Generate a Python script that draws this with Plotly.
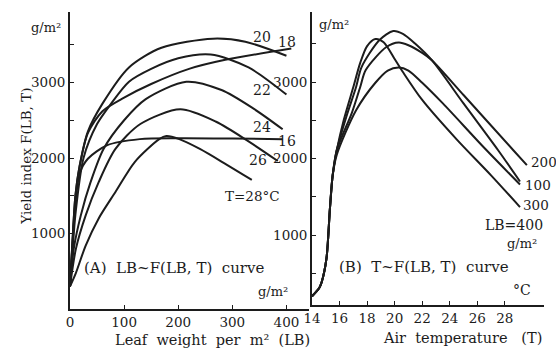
import plotly.graph_objects as go

W, H = 556, 350

# ---------------- Panel A data: LB -> F(LB,T) for several T ----------------
a_temps = ["16", "18", "20", "22", "24", "26", "28"]
a_lb = {
    "16": [0, 5, 10, 18, 33, 69, 129, 200, 300, 393],
    "18": [0, 5, 10, 18, 33, 60, 100, 150, 220, 287, 409],
    "20": [0, 5, 10, 18, 33, 60, 109, 169, 264, 324, 400],
    "22": [0, 5, 10, 25, 50, 75, 109, 150, 200, 260, 330, 400],
    "24": [0, 7, 20, 38, 62, 100, 140, 215, 280, 340, 393],
    "26": [0, 11, 29, 53, 84, 130, 204, 270, 330, 384],
    "28": [0, 11, 29, 53, 84, 120, 165, 178, 202, 240, 290, 336],
}
a_f = {
    "16": [300, 900, 1400, 1800, 1990, 2170, 2250, 2262, 2258, 2250],
    "18": [300, 950, 1500, 1900, 2330, 2620, 2800, 2980, 3180, 3300, 3450],
    "20": [300, 950, 1500, 1900, 2350, 2720, 3200, 3460, 3580, 3540, 3355],
    "22": [300, 800, 1250, 2000, 2450, 2710, 3010, 3180, 3320, 3370, 3200, 2840],
    "24": [300, 800, 1240, 1680, 2120, 2500, 2780, 3010, 2900, 2650, 2380],
    "26": [300, 800, 1240, 1680, 2120, 2450, 2645, 2480, 2220, 1960],
    "28": [300, 480, 840, 1200, 1550, 1950, 2250, 2290, 2250, 2120, 1910, 1710],
}

# ---------------- Panel B data: T -> F(LB,T) for several LB ----------------
b_lbs = ["100", "200", "300", "400"]
b_t = {
    "100": [14, 14.5, 14.7, 15.05, 15.3, 15.5, 15.8, 17.2, 18.6, 19.5, 20.3, 21, 22, 23.5, 26.5, 29.1],
    "200": [14, 14.5, 14.7, 15.05, 15.3, 15.5, 15.8, 16.9, 17.5, 17.9, 19.4, 20.3, 21, 22, 22.7, 25, 28.6, 29.6],
    "300": [14, 14.5, 14.7, 15.05, 15.3, 15.5, 15.8, 16.5, 17.2, 17.6, 18.9, 19.9, 20.6, 21.5, 22.7, 25, 27.5, 29.1],
    "400": [14, 14.5, 14.7, 15.05, 15.3, 15.5, 15.8, 16.3, 17.0, 17.5, 18.0, 18.6, 19.2, 20.0, 20.6, 22, 24.5, 27, 29.1],
}
b_f = {
    "100": [200, 300, 383, 693, 1346, 1780, 2050, 2630, 2990, 3150, 3190, 3150, 2990, 2720, 2140, 1660],
    "200": [200, 300, 383, 693, 1346, 1780, 2110, 2600, 2935, 3156, 3457, 3515, 3480, 3380, 3285, 2830, 2111, 1913],
    "300": [200, 300, 383, 693, 1346, 1780, 2110, 2550, 2935, 3195, 3549, 3667, 3630, 3500, 3285, 2720, 2111, 1700],
    "400": [200, 300, 383, 693, 1346, 1780, 2110, 2500, 2935, 3250, 3470, 3562, 3520, 3300, 3130, 2765, 2250, 1780, 1365],
}

a_xticks = [0, 100, 200, 300, 400]
b_xticks = [14, 16, 18, 20, 22, 24, 26, 28]
y_ticks = [500, 1000, 1500, 2000, 2500, 3000, 3500]
y_ticktext = ["", "1000", "", "2000", "", "3000", ""]

INK = "#1c1c1c"
FONT = "DejaVu Serif"

fig = go.Figure()
for t in a_temps:
    fig.add_trace(go.Scatter(x=a_lb[t], y=a_f[t], mode="lines", xaxis="x", yaxis="y",
                             line=dict(color=INK, width=2, shape="spline", smoothing=0.8),
                             hoverinfo="skip", showlegend=False))
for lb in b_lbs:
    fig.add_trace(go.Scatter(x=b_t[lb], y=b_f[lb], mode="lines", xaxis="x2", yaxis="y2",
                             line=dict(color=INK, width=2, shape="spline", smoothing=0.8),
                             hoverinfo="skip", showlegend=False))


def px(x, y):
    return x / W, 1 - y / H


# axis geometry (pixels)
A_X0, A_X1, A_Y0, A_Y1 = 62, 305, 309, 12
A_XS, A_YS = 0.55, 0.0755
B_X0, B_X1, B_Y0, B_Y1 = 308, 544, 305, 12
B_XS, B_YS = 14.0, 0.0765

axis_common = dict(showline=True, linecolor=INK, linewidth=1.8, ticks="inside", ticklen=4,
                   tickcolor=INK, tickwidth=1.4, showgrid=False, zeroline=False,
                   tickfont=dict(family=FONT, size=13.5, color=INK), fixedrange=True)

fig.update_layout(
    width=W, height=H, margin=dict(l=0, r=0, t=0, b=0),
    paper_bgcolor="white", plot_bgcolor="white",
    xaxis=dict(domain=[A_X0 / W, A_X1 / W], range=[0, (A_X1 - A_X0) / A_XS],
               tickvals=a_xticks, anchor="y", **axis_common),
    yaxis=dict(domain=[1 - A_Y0 / H, 1 - A_Y1 / H], range=[0, (A_Y0 - A_Y1) / A_YS],
               tickvals=y_ticks, ticktext=y_ticktext, anchor="x", **axis_common),
    xaxis2=dict(domain=[B_X0 / W, B_X1 / W], range=[14, 14 + (B_X1 - B_X0) / B_XS],
                tickvals=b_xticks, anchor="y2", **axis_common),
    yaxis2=dict(domain=[1 - B_Y0 / H, 1 - B_Y1 / H], range=[85, 85 + (B_Y0 - B_Y1) / B_YS],
                tickvals=y_ticks, ticktext=y_ticktext, anchor="x2", **axis_common),
)

labels = [
    ("g/m²", 38, 27, 13, 0),
    ("g/m²", 330, 25, 13, 0),
    ("20", 257, 37, 14, 0),
    ("18", 283, 42, 14, 0),
    ("22", 257, 90, 14, 0),
    ("24", 257, 127, 14, 0),
    ("16", 283, 141, 14, 0),
    ("26", 253, 160, 14, 0),
    ("T=28°C", 247, 196, 13.5, 0),
    ("(A)  LB~F(LB, T)  curve", 168, 268, 15, 0),
    ("g/m²", 268, 291, 13, 0),
    ("(B)  T~F(LB, T)  curve", 422, 267, 15, 0),
    ("°C", 521, 290, 14, 0),
    ("200", 544, 162, 13.5, 0),
    ("100", 538, 185, 13.5, 0),
    ("300", 536, 205, 13.5, 0),
    ("LB=400", 513, 225, 14, 0),
    ("g/m²", 521, 243, 13, 0),
    ("Leaf  weight  per  m²  (LB)", 207, 340, 14.5, 0),
    ("Air  temperature   (T)", 461, 338, 14.5, 0),
    ("Yield index F(LB, T)", 17, 156, 13.5, -90),
]
for text, x, y, size, ang in labels:
    xp, yp = px(x, y)
    fig.add_annotation(x=xp, y=yp, xref="paper", yref="paper", text=text, showarrow=False,
                       textangle=ang, xanchor="center", yanchor="middle",
                       font=dict(family=FONT, size=size, color=INK))

fig.write_html("out.html")
